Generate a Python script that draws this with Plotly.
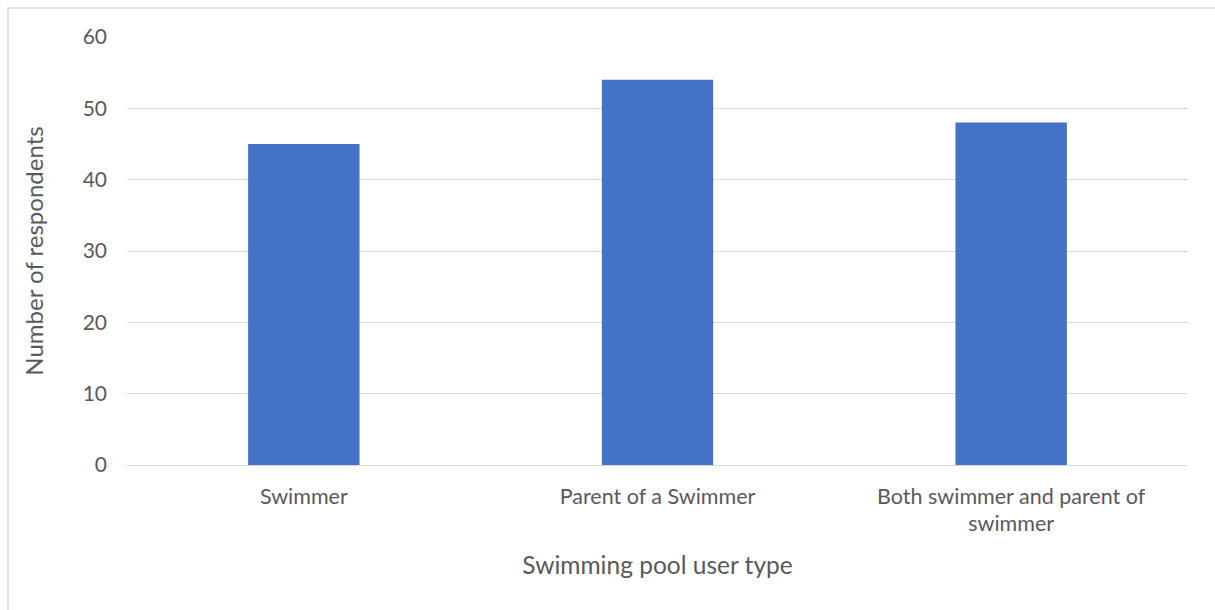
import plotly.graph_objects as go

categories = ["Swimmer", "Parent of a Swimmer", "Both swimmer and parent of<br>swimmer"]
respondents = [45, 54, 48]
y_ticks = [0, 10, 20, 30, 40, 50, 60]

FONT = "Lato"
GREY = "#595959"

fig = go.Figure(go.Bar(x=categories, y=respondents, marker=dict(color="#4472C4", line=dict(width=0))))

fig.update_layout(
    width=1215, height=610,
    margin=dict(l=127, r=27, t=37, b=145),
    paper_bgcolor="white", plot_bgcolor="white",
    bargap=0.685,
    font=dict(family=FONT, color=GREY, size=21),
    showlegend=False,
    xaxis=dict(
        showgrid=False, showline=False, ticks="",
        tickfont=dict(size=21.5, color=GREY), ticklabelstandoff=16,
        title=dict(text="Swimming pool user type", font=dict(size=24.5, color=GREY), standoff=21),
    ),
    yaxis=dict(
        range=[0, 60], tickvals=y_ticks,
        showgrid=True, gridcolor="#d9d9d9", gridwidth=1,
        zeroline=True, zerolinecolor="#d9d9d9", zerolinewidth=1,
        showline=False, ticks="", ticklabelstandoff=19,
        tickfont=dict(size=21, color=GREY),
        title=dict(text="Number of respondents", font=dict(size=24, color=GREY), standoff=32),
    ),
    shapes=[dict(
        type="rect", xref="paper", yref="paper",
        x0=(8 - 127) / 1061, x1=(1220 - 127) / 1061,
        y0=-(620 - 465) / 428, y1=1 + (37 - 8) / 428,
        line=dict(color="#d9d9d9", width=1.5), layer="below",
    )],
)

fig.write_html("out.html")
